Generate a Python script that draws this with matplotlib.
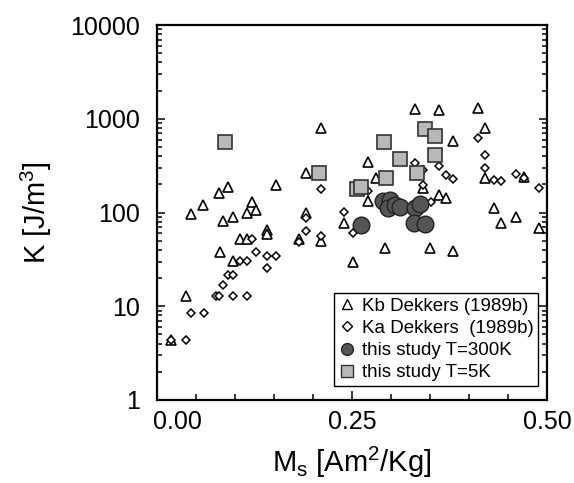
"""K vs Ms scatter, Dekkers (1989b) data plus this study."""

import matplotlib
matplotlib.use("Agg")
import matplotlib.pyplot as plt
from matplotlib.lines import Line2D
from matplotlib.ticker import FixedLocator, MultipleLocator, LogLocator, NullFormatter
from matplotlib.transforms import ScaledTranslation

plt.rcParams["font.family"] = ["Liberation Sans", "DejaVu Sans"]
plt.rcParams["mathtext.default"] = "regular"

# Kb Dekkers (1989b) - triangles
kb_ms = [0.331, 0.361, 0.411, 0.210, 0.421, 0.380, 0.270, 0.191, 0.281, 0.152,
         0.091, 0.079, 0.421, 0.471, 0.341, 0.059, 0.044, 0.122, 0.127, 0.116,
         0.097, 0.084, 0.191, 0.270, 0.361, 0.371, 0.432, 0.441, 0.460, 0.490,
         0.240, 0.141, 0.141, 0.106, 0.116, 0.182, 0.210, 0.081, 0.097, 0.292,
         0.350, 0.380, 0.251, 0.037, 0.018]
kb_k = [1262, 1240, 1312, 791, 791, 579, 343, 262, 232, 197,
        189, 160, 232, 241, 181, 120, 96, 130, 106, 99.5,
        89, 81, 99.5, 133, 154, 144, 113, 78, 90, 68,
        78, 65, 59, 52, 52, 52, 50, 38, 30.4, 42,
        42, 39, 30, 12.7, 4.4]

# Ka Dekkers (1989b) - diamonds
ka_ms = [0.411, 0.421, 0.421, 0.331, 0.361, 0.371, 0.380, 0.432, 0.441, 0.460,
         0.471, 0.490, 0.341, 0.341, 0.351, 0.210, 0.270, 0.240, 0.251, 0.191,
         0.191, 0.182, 0.210, 0.122, 0.127, 0.141, 0.152, 0.141, 0.106, 0.116,
         0.091, 0.097, 0.084, 0.076, 0.080, 0.097, 0.116, 0.044, 0.060, 0.018,
         0.037]
ka_k = [619, 411, 296, 340, 313, 251, 226, 222, 217, 257,
        232, 184, 281, 198, 130, 177, 168, 102, 60, 88,
        63.5, 48.8, 56, 51.8, 38.2, 34.4, 34.4, 25.4, 30.2, 30.2,
        21.5, 21.5, 16.9, 12.9, 12.9, 12.9, 12.9, 8.5, 8.5, 4.4,
        4.4]

# this study T=300K - circles
t300_ms = [0.262, 0.290, 0.299, 0.296, 0.305, 0.312, 0.331, 0.337, 0.329, 0.344]
t300_k = [72.7, 133, 137, 111, 120, 115, 111, 123, 76.7, 75.4]

# this study T=5K - squares
t5_ms = [0.087, 0.208, 0.291, 0.344, 0.356, 0.356, 0.312, 0.294, 0.333, 0.256, 0.262]
t5_k = [569, 262, 569, 771, 655, 411, 369, 232, 262, 178, 187]

fig = plt.figure(figsize=(5.74, 4.83), dpi=100)
ax = fig.add_axes([0.2735, 0.172, 0.6795, 0.776])

ax.plot(kb_ms, kb_k, ls="none", marker="^", ms=7.3, mfc="white", mec="black", mew=1.2)
ax.plot(ka_ms, ka_k, ls="none", marker="D", ms=4.4, mfc="white", mec="black", mew=1.1)
ax.plot(t5_ms, t5_k, ls="none", marker="s", ms=9.5, mfc="#b8b8b8", mec="#333333", mew=1.2)
ax.plot(t300_ms, t300_k, ls="none", marker="o", ms=12, mfc="#555555", mec="#222222", mew=1.0)

ax.set_yscale("log")
ax.set_xlim(0, 0.5)
ax.set_ylim(1, 10000)

ax.xaxis.set_major_locator(FixedLocator([0, 0.25, 0.5]))
ax.xaxis.set_minor_locator(MultipleLocator(0.05))
ax.set_xticklabels(["0.00", "0.25", "0.50"])
ax.yaxis.set_minor_locator(LogLocator(base=10, subs=range(2, 10), numticks=20))
ax.yaxis.set_minor_formatter(NullFormatter())
ax.set_yticks([1, 10, 100, 1000, 10000])
ax.set_yticklabels(["1", "10", "100", "1000", "10000"])

ax.tick_params(which="both", direction="in", labelsize=18, width=1.1)
ax.tick_params(axis="x", which="major", length=6.5, pad=7, top=False)
ax.tick_params(axis="x", which="minor", length=4, top=False)
ax.tick_params(axis="y", which="major", length=6, pad=12, right=True)
ax.tick_params(axis="y", which="minor", length=3.5, right=True)

for s in ax.spines.values():
    s.set_linewidth(1.6)

# the first x label sits a bit right of its tick in the original
lbl = ax.get_xticklabels()[0]
lbl.set_transform(lbl.get_transform() + ScaledTranslation(0.2, 0, fig.dpi_scale_trans))

ax.set_xlabel("M$_{s}$ [Am$^2$/Kg]", fontsize=21, labelpad=8)
ax.set_ylabel("K [J/m$^3$]", fontsize=21, labelpad=12)

handles = [
    Line2D([], [], ls="none", marker="^", ms=7.5, mfc="white", mec="black", mew=1.0),
    Line2D([], [], ls="none", marker="D", ms=4.8, mfc="white", mec="black", mew=1.0),
    Line2D([], [], ls="none", marker="o", ms=8.5, mfc="#555555", mec="#222222", mew=1.0),
    Line2D([], [], ls="none", marker="s", ms=8, mfc="#b8b8b8", mec="#333333", mew=1.0),
]
labels = ["Kb Dekkers (1989b)", "Ka Dekkers  (1989b)",
          "this study T=300K", "this study T=5K"]
leg = ax.legend(handles, labels, loc="lower right", bbox_to_anchor=(0.977, 0.037),
                borderaxespad=0, fontsize=13.5, frameon=True, fancybox=False,
                edgecolor="black", framealpha=1, handlelength=0.8,
                handletextpad=0.4, labelspacing=0.27, borderpad=0.25)
leg.get_frame().set_linewidth(1.0)

fig.savefig("out.png", dpi=100)
